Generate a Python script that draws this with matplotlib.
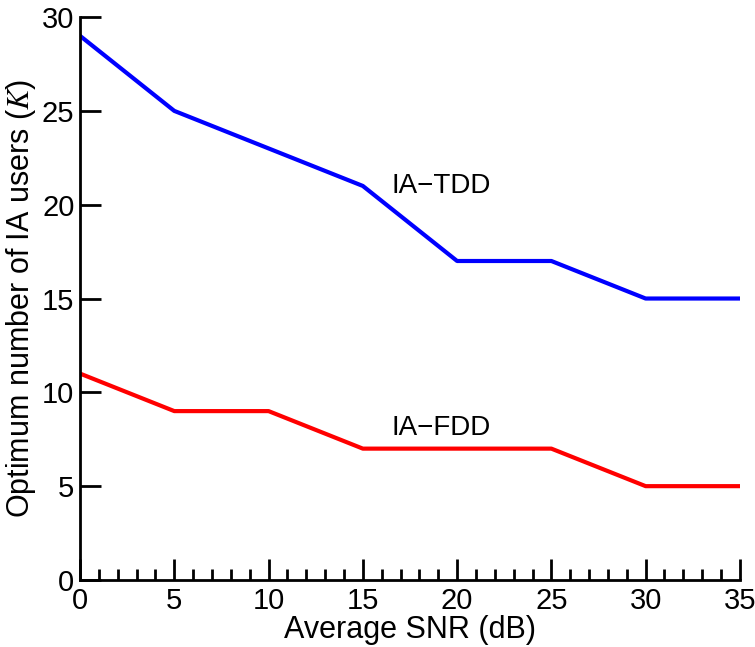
import matplotlib
matplotlib.use("Agg")
import matplotlib.pyplot as plt
from matplotlib.ticker import MultipleLocator

snr_db = [0, 5, 10, 15, 20, 25, 30, 35]
k_tdd = [29, 25, 23, 21, 17, 17, 15, 15]
k_fdd = [11, 9, 9, 7, 7, 7, 5, 5]

plt.rcParams['font.family'] = ['Liberation Sans', 'DejaVu Sans']
plt.rcParams['mathtext.fontset'] = 'stix'
plt.rcParams['font.size'] = 21

fig = plt.figure(figsize=(7.55, 6.47), dpi=100)
ax = fig.add_axes([0.106, 0.1036, 0.874, 0.870])

ax.plot(snr_db, k_tdd, color='#0000ff', lw=3)
ax.plot(snr_db, k_fdd, color='#ff0000', lw=3)

ax.text(16.5, 21.0, 'IA\u2212TDD', fontsize=20, va='center', ha='left')
ax.text(16.5, 8.1, 'IA\u2212FDD', fontsize=20, va='center', ha='left')

ax.set_xlim(0, 35)
ax.set_ylim(0, 30)
ax.xaxis.set_major_locator(MultipleLocator(5))
ax.xaxis.set_minor_locator(MultipleLocator(1))
ax.yaxis.set_major_locator(MultipleLocator(5))

for s in ['top', 'right']:
    ax.spines[s].set_visible(False)
for s in ['left', 'bottom']:
    ax.spines[s].set_linewidth(2)

ax.tick_params(which='major', direction='in', length=15, width=2, labelsize=21)
ax.tick_params(axis='y', which='major', pad=4)
ax.tick_params(axis='x', which='major', pad=5)
ax.tick_params(which='minor', direction='in', length=8, width=2)
ax.tick_params(axis='y', which='minor', left=False)

ax.set_xlabel('Average SNR (dB)', fontsize=22, labelpad=0)
ax.set_ylabel('Optimum number of IA users ($K$)', fontsize=22, labelpad=3)

fig.savefig('out.png', dpi=100)
